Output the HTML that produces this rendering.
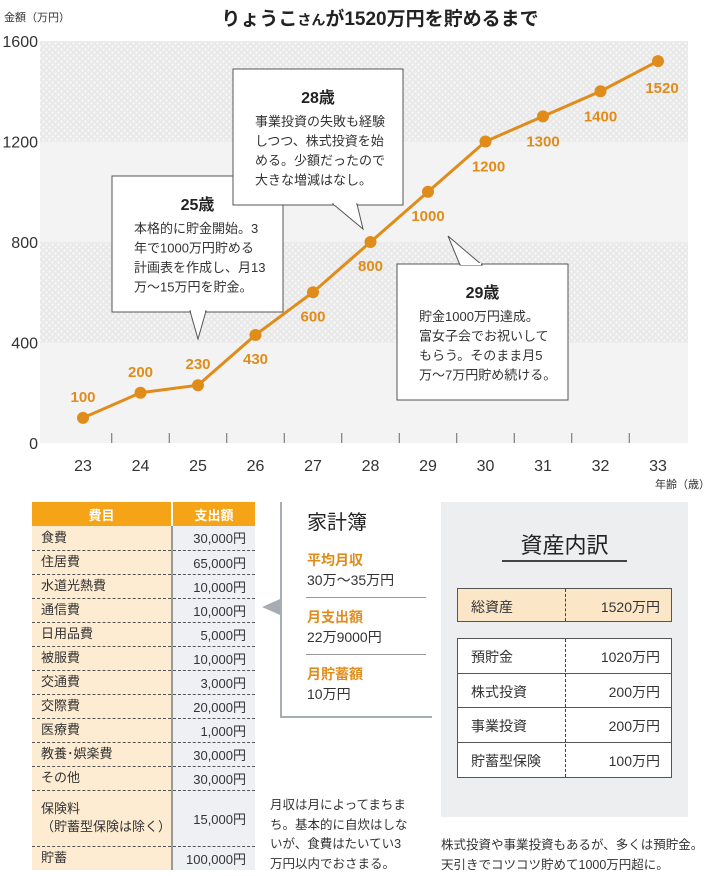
<!DOCTYPE html>
<html><head><meta charset="utf-8">
<style>
body{margin:0;width:710px;height:876px;background:#fff;font-family:"Liberation Sans","Noto Sans CJK JP",sans-serif;color:#333;position:relative;overflow:hidden}
.abs{position:absolute}
table{border-collapse:collapse}
</style></head><body>
<svg class="abs" style="left:0;top:0" width="710" height="490">
<defs>
<pattern id="dots" width="6" height="6" patternUnits="userSpaceOnUse"><rect width="6" height="6" fill="#e9e9e9"/><circle cx="1.5" cy="1.5" r="1.1" fill="#fafafa"/><circle cx="4.5" cy="4.5" r="1.1" fill="#fafafa"/></pattern>
</defs>
<g id="bands"></g>
<g id="axes"></g>
<g id="callouts"></g>
<g id="series"></g>
</svg>
<div class="abs" style="left:4px;top:9px;font-size:11px">金額（万円）</div>
<div class="abs" style="left:0;width:760px;text-align:center;top:4px;font-size:19px;font-weight:bold;color:#222">りょうこ<span style="font-size:14px">さん</span>が1520万円を貯めるまで</div>
<div class="abs" style="left:655px;top:476px;font-size:11px">年齢（歳）</div>

<script>
const ages=[23,24,25,26,27,28,29,30,31,32,33];
const amounts=[100,200,230,430,600,800,1000,1200,1300,1400,1520];
const yTicks=[0,400,800,1200,1600];
const labelDx=[0,0,0,0,0,0,0,3,0,0,4];
const labelDy=[-22,-22,-22,23,23,23,23,24,24,24,26];
const X0=40,X1=688,Y0=443,Y1=41;
const xs=a=>83+(a-23)*57.5;
const ys=v=>Y0-(v/1600)*(Y0-Y1);
const NS="http://www.w3.org/2000/svg";
function mk(t,at,p){const e=document.createElementNS(NS,t);for(const k in at)e.setAttribute(k,at[k]);p.appendChild(e);return e;}
const bands=document.getElementById('bands'),axes=document.getElementById('axes'),series=document.getElementById('series'),call=document.getElementById('callouts');
for(let i=0;i<yTicks.length-1;i++){
 const r=mk('rect',{x:X0,y:ys(yTicks[i+1]),width:X1-X0,height:ys(yTicks[i])-ys(yTicks[i+1]),fill:i%2?'url(#dots)':'#f3f3f4'},bands);
 
 
}
yTicks.forEach(v=>{const t=mk('text',{x:38,y:ys(v)+6,'text-anchor':'end','font-size':16,fill:'#333'},axes);t.textContent=v;
 
 });
ages.forEach((a,i)=>{
 const t=mk('text',{x:xs(a),y:471,'text-anchor':'middle','font-size':16,fill:'#333'},axes);t.textContent=a;
 
 
 if(i<ages.length-1){const l=mk('line',{x1:xs(a)+28.75,x2:xs(a)+28.75,y1:433,y2:443,stroke:'#666','stroke-width':1},axes);
 
 }
});
const pl=mk('polyline',{points:ages.map((a,i)=>xs(a)+','+ys(amounts[i])).join(' '),fill:'none',stroke:'#e08c1a','stroke-width':3},series);


ages.forEach((a,i)=>{
 const c=mk('circle',{cx:xs(a),cy:ys(amounts[i]),r:6,fill:'#e08c1a'},series);
 
 
 const t=mk('text',{x:xs(a)+labelDx[i],y:ys(amounts[i])+labelDy[i]+6,'text-anchor':'middle','font-size':15,'font-weight':'bold',fill:'#e08c1a'},series);
 t.textContent=amounts[i];
 
 
});
function callout(name,x,y,w,h,ptr,title,lines){
 const g=mk('g',{},call);
 
 
 mk('rect',{x:x,y:y,width:w,height:h,fill:'#fff',stroke:'#555','stroke-width':1},g);
 mk('polygon',{points:ptr,fill:'#fff',stroke:'#555','stroke-width':1},g);
 const t=mk('text',{x:x+w/2,y:y+34,'text-anchor':'middle','font-size':16,'font-weight':'bold',fill:'#222'},g);t.textContent=title;
 lines.forEach((s,k)=>{const tt=mk('text',{x:x+22,y:y+57+k*19.5,'font-size':13,fill:'#333'},g);tt.textContent=s;});
}
callout('callout-age-25',112,176,171,136,'190,311 206,311 198,339','25歳',['本格的に貯金開始。3','年で1000万円貯める','計画表を作成し、月13','万〜15万円を貯金。']);
callout('callout-age-28',233,69,170,136,'333,204 357,204 363,229','28歳',['事業投資の失敗も経験','しつつ、株式投資を始','める。少額だったので','大きな増減はなし。']);
callout('callout-age-29',397,264,171,136,'460,265 482,265 448,236','29歳',['貯金1000万円達成。','富女子会でお祝いして','もらう。そのまま月5','万〜7万円貯め続ける。']);
[[191,311,205,311],[334,204,356,204],[461,264,481,264]].forEach(p=>mk('line',{x1:p[0],y1:p[1],x2:p[2],y2:p[3],stroke:'#fff','stroke-width':2},call));
</script>

<table class="abs" style="left:32px;top:502px;width:223px;font-size:13px">
<tr style="height:24px;background:#f4a416;color:#fff;font-weight:bold"><td style="width:137px;text-align:center;border-right:2px solid #fff">費目</td><td style="text-align:center">支出額</td></tr>
</table>
<script>
const items=['食費','住居費','水道光熱費','通信費','日用品費','被服費','交通費','交際費','医療費','教養･娯楽費','その他','保険料<br>（貯蓄型保険は除く）','貯蓄'];
const costs=['30,000円','65,000円','10,000円','10,000円','5,000円','10,000円','3,000円','20,000円','1,000円','30,000円','30,000円','15,000円','100,000円'];
const tb=document.querySelector('table');
items.forEach((it,i)=>{
 const tr=document.createElement('tr');
 
 
 tr.style.height=(i==11?56:24)+'px';
 const b=i<items.length-1?'1px dashed #555':'none';
 tr.innerHTML='<td style="background:#fdebd2;padding-left:9px;border-bottom:'+b+';border-right:2px solid #999;line-height:18px">'+it+'</td><td style="background:#eef0f3;text-align:right;padding-right:9px;border-bottom:'+b+'">'+costs[i]+'</td>';
 tb.appendChild(tr);
});
</script>

<div class="abs" style="left:262px;top:599px;width:0;height:0;border-top:8px solid transparent;border-bottom:8px solid transparent;border-right:18px solid #a8adb3"></div>
<div class="abs" style="left:280px;top:502px;width:150px;height:214px;border-left:2px solid #a8adb3;border-bottom:2px solid #a8adb3">
 <div class="abs" style="left:25px;top:4px;font-size:20px;color:#222">家計簿</div>
 <div class="abs" style="left:25px;top:48px;font-size:14px;line-height:20px"><b style="color:#e08c1a">平均月収</b><br>30万〜35万円</div>
 <div class="abs" style="left:24px;top:95px;width:120px;border-top:1px solid #999"></div>
 <div class="abs" style="left:25px;top:105px;font-size:14px;line-height:20px"><b style="color:#e08c1a">月支出額</b><br>22万9000円</div>
 <div class="abs" style="left:24px;top:152px;width:120px;border-top:1px solid #999"></div>
 <div class="abs" style="left:25px;top:162px;font-size:14px;line-height:20px"><b style="color:#e08c1a">月貯蓄額</b><br>10万円</div>
</div>
<div class="abs" style="left:270px;top:796px;font-size:12.5px;line-height:19.5px;width:150px">月収は月によってまちま<br>ち。基本的に自炊はしな<br>いが、食費はたいてい3<br>万円以内でおさまる。</div>

<div class="abs" style="left:441px;top:502px;width:247px;height:315px;background:#edeef0">
 <div class="abs" style="left:0;width:247px;text-align:center;top:26px;font-size:22px;color:#222">資産内訳</div>
 <div class="abs" style="left:61px;top:58px;width:125px;border-top:2px solid #444"></div>
 <div class="abs" style="left:16px;top:86px;width:215px;height:34px;background:#fbe7c8;border:1px solid #555;box-sizing:border-box;font-size:14px">
  <span class="abs" style="left:13px;top:8px">総資産</span><span class="abs" style="right:11px;top:8px">1520万円</span>
  <div class="abs" style="left:107px;top:0;height:32px;border-left:1px dashed #444"></div></div>
 <div id="assets" class="abs" style="left:16px;top:136px;width:215px;height:140px;background:#fff;border:1px solid #555;box-sizing:border-box;font-size:14px"></div>
</div>
<script>
const assetNames=['預貯金','株式投資','事業投資','貯蓄型保険'];
const assetVals=['1020万円','200万円','200万円','100万円'];
const ad=document.getElementById('assets');
assetNames.forEach((n,i)=>{
 const r=document.createElement('div');
 
 
 r.className='abs';
 r.style.cssText='left:0;width:213px;top:'+(i*34.5)+'px;height:34.5px;box-sizing:border-box;'+(i<3?'border-bottom:1px solid #555':'');
 r.innerHTML='<span class="abs" style="left:13px;top:8px">'+n+'</span><span class="abs" style="right:11px;top:8px">'+assetVals[i]+'</span>';
 ad.appendChild(r);
});
const dv=document.createElement('div');dv.className='abs';dv.style.cssText='left:107px;top:0;height:138px;border-left:1px dashed #444';ad.appendChild(dv);
</script>
<div class="abs" style="left:441px;top:836px;font-size:12.5px;line-height:19.5px;white-space:nowrap">株式投資や事業投資もあるが、多くは預貯金。<br>天引きでコツコツ貯めて1000万円超に。</div>
</body></html>
